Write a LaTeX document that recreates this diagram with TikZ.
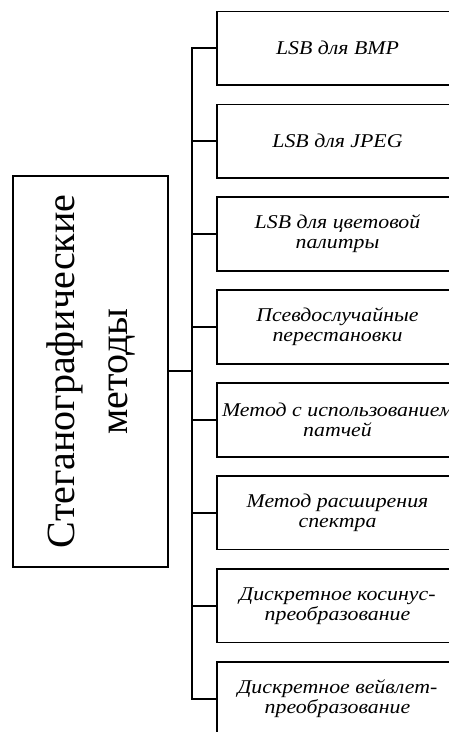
\documentclass[tikz,border=0pt]{standalone}
\usepackage{fontspec}
\setmainfont{Liberation Serif}
\newfontfamily\methodfont[FakeStretch=1.12]{Liberation Serif}
\usepackage{tikz}
\usetikzlibrary{positioning}

\begin{document}
\begin{tikzpicture}[x=1pt,y=1pt,node distance=17.6pt,
    method/.style={draw,line width=1.8pt,minimum width=241pt,minimum height=73.5pt,inner xsep=0pt,align=center,font=\methodfont\fontsize{19.5}{20}\selectfont\itshape},
    root/.style={draw,line width=1.8pt,rotate=90,minimum width=390.7pt,minimum height=155pt,align=center,font=\fontsize{40}{53}\selectfont},
    link/.style={line width=2pt}]
    \useasboundingbox (0,0) rectangle (449,732);
    \clip (0,0) rectangle (449,732);

    % root box, rotated
    \node[root] (main) at (90.8,360.7) {Стеганографические\\методы};

    % methods
    \node[method] (b1) at (337.5,683.7) {LSB для BMP};
    \node[method,below=of b1] (b2) {LSB для JPEG};
    \node[method,below=of b2] (b3) {LSB для цветовой\\палитры};
    \node[method,below=of b3] (b4) {Псевдослучайные\\перестановки};
    \node[method,below=of b4] (b5) {Метод с использованием\\патчей};
    \node[method,below=of b5] (b6) {Метод расширения\\спектра};
    \node[method,below=of b6] (b7) {Дискретное косинус-\\преобразование};
    \node[method,below=of b7] (b8) {Дискретное вейвлет-\\преобразование};

    \coordinate (trunk) at (192.3,360.7);
    \draw[link] (main.south) -- (trunk);
    \draw[link] (b1.west) -- (b1.west -| trunk) -- (b8.west -| trunk) -- (b8.west);
    \draw[link] (b2.west) -- (b2.west -| trunk);
    \draw[link] (b3.west) -- (b3.west -| trunk);
    \draw[link] (b4.west) -- (b4.west -| trunk);
    \draw[link] (b5.west) -- (b5.west -| trunk);
    \draw[link] (b6.west) -- (b6.west -| trunk);
    \draw[link] (b7.west) -- (b7.west -| trunk);
\end{tikzpicture}
\end{document}
